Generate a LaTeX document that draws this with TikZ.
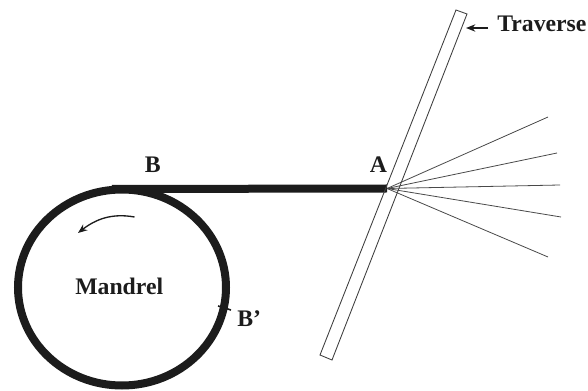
\documentclass[tikz,border=0pt]{standalone}
\usepackage{fontspec}
\setmainfont{Liberation Serif}
\usetikzlibrary{arrows.meta}
\definecolor{ink}{RGB}{28,28,28}
\tikzset{
  every picture/.style={x=0.75pt,y=-0.75pt},
  lbl/.style={font=\fontsize{17.8}{18}\selectfont\bfseries,text=ink,inner sep=0pt,anchor=base west},
  fibre/.style={draw=ink,line width=0.8pt},
  thin fibre/.style={draw=ink!80,line width=0.6pt},
  tow/.style={draw=ink,line width=6pt},
  bar/.style={draw=ink!85,line width=0.65pt},
  pointer/.style={draw=ink,line width=1pt,-{Stealth[length=7pt,width=5.5pt]}}
}
\begin{document}
\begin{tikzpicture}
\useasboundingbox (0,0) rectangle (588,391);
% mandrel winding
\coordinate (C) at (122,287.5);
\draw[tow] (C) ellipse [x radius=104,y radius=98];
\coordinate (B) at (112,189);
\coordinate (A) at (387,188.5);
\draw[tow] (B) -- (A);
\coordinate (Bt1) at (218,306);
\coordinate (Bt2) at (231,310);
\draw[fibre,line width=1.2pt] (Bt1) -- (Bt2);
% traverse bar
\coordinate (T1) at (456,10);
\coordinate (T2) at (467,14);
\coordinate (T3) at (332,360);
\coordinate (T4) at (320,355);
\draw[bar] (T1) -- (T2) -- (T3) -- (T4) -- cycle;
% fan
\coordinate (F1) at (548,117);
\coordinate (F2) at (557,153);
\coordinate (F3) at (560,185);
\coordinate (F4) at (561,217);
\coordinate (F5) at (548,257);
\foreach \e in {F1,F2,F3,F4,F5} \draw[thin fibre] (A) -- (\e);
% labels
\node[lbl] (lb) at (144.5,173) {B};
\node[lbl] (la) at (369.5,173) {A};
\node[lbl] (lbp) at (237,326) {B’};
\node[lbl] (lm) at (75,294) {Mandrel};
\node[lbl] (lt) at (497,32) {Traverse};
% pointers
\coordinate (Ttip) at (466,28);
\coordinate (Ttail) at (488,28);
\draw[pointer] (Ttail) -- (Ttip);
\coordinate (R1) at (134.5,217);
\coordinate (R2) at (78,233);
\draw[pointer] (R1) .. controls (112,213) and (96,219) .. (R2);
\end{tikzpicture}
\end{document}
